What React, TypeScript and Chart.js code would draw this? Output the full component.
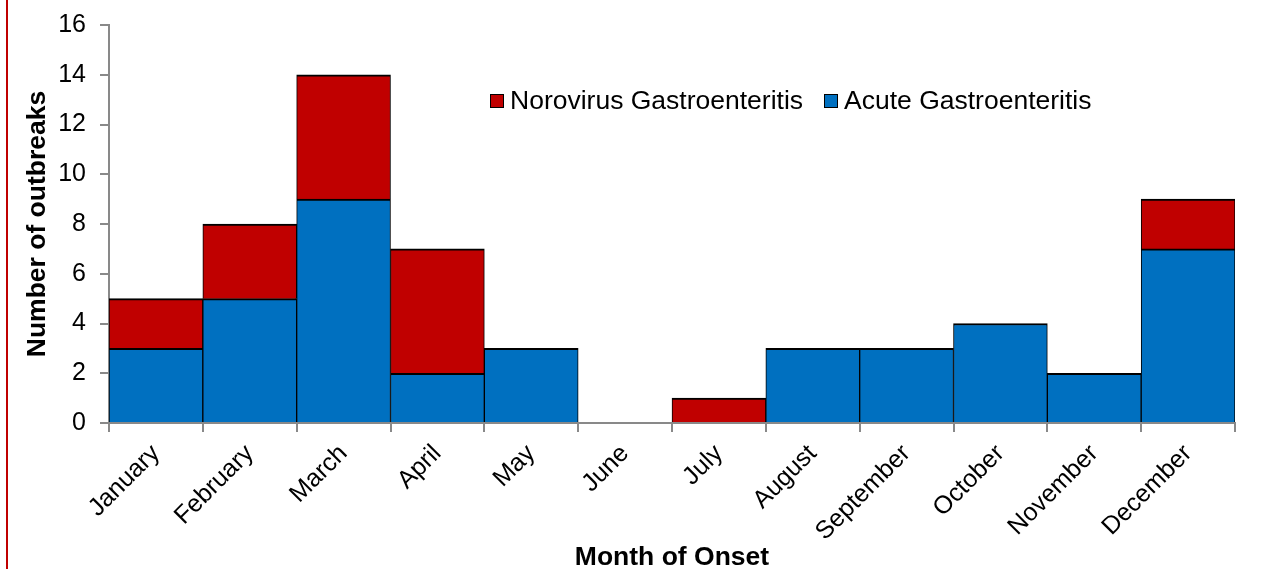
import React, { useEffect, useRef } from "react";
import { Chart, registerables } from "chart.js";

Chart.register(...registerables);

const months = [
  "January", "February", "March", "April", "May", "June",
  "July", "August", "September", "October", "November", "December",
];
const acuteValues = [3, 5, 9, 2, 3, null, null, 3, 3, 4, 2, 7];
const norovirusValues = [2, 3, 5, 5, null, null, 1, null, null, null, null, 2];
const seriesNames = ["Norovirus Gastroenteritis", "Acute Gastroenteritis"];
const yTicks = [0, 2, 4, 6, 8, 10, 12, 14, 16];

const RED = "#C00000";
const BLUE = "#0070C0";
const AXIS = "#898989";
const FONT = "'Liberation Sans', Arial, sans-serif";

const legendPlugin = {
  id: "insideLegend",
  afterDraw(chart: any) {
    const ctx = chart.ctx;
    const items = [
      { label: seriesNames[0], color: RED, x: 490 },
      { label: seriesNames[1], color: BLUE, x: 824 },
    ];
    const cy = 101;
    ctx.save();
    ctx.font = `26.5px ${FONT}`;
    ctx.textBaseline = "middle";
    ctx.textAlign = "left";
    for (const it of items) {
      ctx.fillStyle = it.color;
      ctx.fillRect(it.x, cy - 7, 14, 14);
      ctx.strokeStyle = "#000";
      ctx.lineWidth = 1;
      ctx.strokeRect(it.x + 0.5, cy - 6.5, 13, 13);
      ctx.fillStyle = "#000";
      ctx.fillText(it.label, it.x + 20, cy + 1);
    }
    ctx.restore();
  },
};

export default function App() {
  const ref = useRef<HTMLCanvasElement>(null);
  useEffect(() => {
    if (!ref.current) return;
    const border = { top: 2, right: 1, bottom: 0, left: 1 };
    const chart = new Chart(ref.current, {
      type: "bar",
      data: {
        labels: months,
        datasets: [
          {
            label: seriesNames[1],
            data: acuteValues as any,
            backgroundColor: BLUE,
            borderColor: "#000",
            borderWidth: border as any,
            borderSkipped: false,
            barPercentage: 1,
            categoryPercentage: 1,
          },
          {
            label: seriesNames[0],
            data: norovirusValues as any,
            backgroundColor: RED,
            borderColor: "#000",
            borderWidth: border as any,
            borderSkipped: false,
            barPercentage: 1,
            categoryPercentage: 1,
          },
        ],
      },
      options: {
        responsive: false,
        animation: false,
        layout: { padding: { left: 22, right: 47, top: 25, bottom: 0 } },
        plugins: {
          legend: { display: false },
          tooltip: { enabled: false },
        },
        scales: {
          x: {
            stacked: true,
            grid: {
              display: true,
              drawOnChartArea: false,
              drawTicks: true,
              tickLength: 9,
              color: AXIS,
              lineWidth: 2,
              offset: true,
            },
            border: { display: true, color: AXIS, width: 2 },
            ticks: {
              autoSkip: false,
              minRotation: 45,
              maxRotation: 45,
              color: "#000",
              padding: 7,
              font: { family: FONT, size: 25 },
            },
            title: {
              display: true,
              text: "Month of Onset",
              color: "#000",
              font: { family: FONT, size: 26.5, weight: "bold", lineHeight: 1 },
              padding: { top: 0, bottom: -2 },
            },
            afterFit: (scale: any) => {
              scale.height = 146;
            },
          },
          y: {
            stacked: true,
            min: 0,
            max: 16,
            afterBuildTicks: (scale: any) => {
              scale.ticks = yTicks.map((v) => ({ value: v }));
            },
            grid: {
              display: true,
              drawOnChartArea: false,
              drawTicks: true,
              tickLength: 9,
              color: AXIS,
              lineWidth: 2,
            },
            border: { display: true, color: AXIS, width: 2 },
            ticks: {
              color: "#000",
              padding: 14,
              font: { family: FONT, size: 25 },
            },
            title: {
              display: true,
              text: "Number of outbreaks",
              color: "#000",
              font: { family: FONT, size: 26.5, weight: "bold", lineHeight: 1 },
              padding: { top: 2, bottom: 0 },
            },
            afterFit: (scale: any) => {
              scale.width = 87;
              scale.paddingTop = 0;
              scale.paddingBottom = 0;
            },
          },
        },
      },
      plugins: [legendPlugin],
    });
    return () => chart.destroy();
  }, []);

  return (
    <div style={{ position: "absolute", left: 0, top: 0, width: 1282, height: 569, background: "#fff" }}>
      <canvas ref={ref} width={1282} height={569} style={{ display: "block" }} />
      <div style={{ position: "absolute", left: 6, top: 0, width: 2, height: 569, background: RED }} />
    </div>
  );
}
